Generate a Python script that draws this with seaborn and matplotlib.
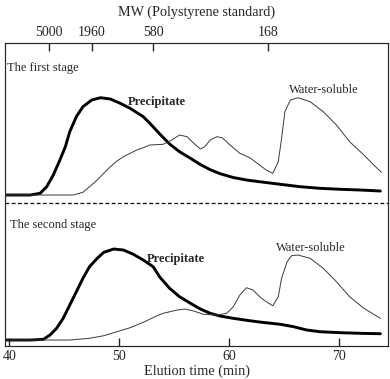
import matplotlib
matplotlib.use('Agg')
import matplotlib.pyplot as plt
import seaborn as sns
import pandas as pd

sns.set_style('ticks')
plt.rcParams['font.family'] = ['Liberation Serif', 'DejaVu Serif']

# elution time (min) and signal height above baseline
t_prec1 = [39.7, 41.9, 42.8, 43.4, 44.0, 44.6, 45.1, 45.5, 46.1, 46.7, 47.5, 48.3, 49.2,
           50.1, 51.0, 52.2, 52.8, 53.7, 54.6, 55.5, 56.5, 57.4, 58.3, 59.2, 60.4, 61.6,
           62.8, 64.7, 66.5, 68.3, 70.2, 72.0, 73.8]
s_prec1 = [0, 0, 1.7, 8.3, 20, 35, 48.3, 63.3, 78.3, 88.3, 95, 97.3, 96, 91.7, 86.7,
           78.3, 71.7, 61, 51, 43.3, 36.7, 30.5, 25.3, 21.3, 17.5, 15, 13.3, 10.7, 8.3,
           6.7, 5.7, 5, 4]

t_ws1 = [39.7, 45.8, 46.7, 47.3, 48.0, 48.6, 49.2, 49.8, 50.4, 51.0, 51.6, 52.2, 52.8,
         54.0, 54.8, 55.5, 56.2, 56.8, 57.4, 57.8, 58.3, 58.9, 59.4, 60.1, 61.0, 61.9,
         62.8, 63.4, 64.0, 64.5, 64.8, 65.1, 65.6, 66.3, 67.4, 68.6, 69.8, 71.0, 72.3,
         73.2, 73.9]
s_ws1 = [0, 0, 2.7, 8.3, 15, 21.7, 28.3, 34, 38.3, 41.7, 45, 47.3, 50, 50.7, 55, 60,
         58.3, 51.7, 46, 48.3, 55, 58.3, 57.3, 50, 41.7, 37.3, 30, 25, 21.7, 33.3, 56.7,
         83.3, 95, 97.3, 93.3, 83.3, 70, 53.3, 40, 30, 22.7]

t_prec2 = [39.7, 41.9, 43.1, 43.7, 44.3, 44.9, 45.5, 46.1, 46.7, 47.3, 48.0, 48.6, 49.5,
           50.4, 51.3, 52.2, 53.1, 53.7, 54.6, 55.5, 56.5, 57.4, 58.3, 59.2, 60.4, 61.9,
           62.8, 64.7, 65.9, 67.1, 68.3, 70.2, 72.0, 73.8]
s_prec2 = [0, 0, 0.7, 5, 11.7, 21.7, 35, 48.3, 61.7, 73.3, 81.7, 87.7, 91, 90, 85.7, 80,
           73.3, 63, 51.7, 43.3, 36.7, 31, 26.7, 24, 21.7, 19.3, 18, 15.7, 13.3, 10,
           8.3, 7.3, 6.7, 6.3]

t_ws2 = [39.7, 45.5, 47.3, 48.6, 49.8, 51.0, 52.2, 53.4, 54.0, 55.3, 56.0, 56.8, 57.7,
         58.9, 59.8, 60.4, 61.0, 61.6, 62.2, 62.8, 63.4, 64.0, 64.5, 64.8, 65.3, 65.7,
         66.3, 67.4, 68.6, 69.8, 71.0, 72.3, 73.8]
s_ws2 = [0, 0, 1.7, 4.3, 8.3, 12.3, 17.7, 24, 26.7, 30, 31, 29, 25.7, 25, 26.7, 33.3, 45,
         52.3, 50, 43.3, 38.3, 34.3, 43.3, 61.7, 78.3, 84.3, 85, 81.7, 71.7, 58.3, 43.3,
         31.7, 21.7]

stage_offsets = {'first': 151, 'second': 6}

mw_labels = ['5000', '1960', '580', '168']
mw_times = [43.6, 47.5, 53.1, 63.6]

rows = []
for stage, kind, tt, ss in [('first', 'Precipitate', t_prec1, s_prec1),
                            ('first', 'Water-soluble', t_ws1, s_ws1),
                            ('second', 'Precipitate', t_prec2, s_prec2),
                            ('second', 'Water-soluble', t_ws2, s_ws2)]:
    for t, s in zip(tt, ss):
        rows.append({'stage': stage, 'kind': kind, 'time': t,
                     'y': s + stage_offsets[stage]})
df = pd.DataFrame(rows)

fig = plt.figure(figsize=(3.9, 3.79), dpi=100)
ax = fig.add_axes([0.0128, 0.087, 0.9822, 0.7995])

for (stage, kind), g in df.groupby(['stage', 'kind']):
    bold = kind == 'Precipitate'
    sns.lineplot(data=g, x='time', y='y', ax=ax, color='black' if bold else '#3a3a3a',
                 linewidth=2.1 if bold else 0.7, sort=False, estimator=None,
                 solid_joinstyle='round')

ax.axhline(143, color='black', linestyle=(0, (3, 2)), linewidth=0.9)

ax.set_xlim(39.6, 74.5)
ax.set_ylim(0, 303)
ax.set_yticks([])
ax.set_ylabel('')
ax.set_xticks([40, 50, 60, 70])
ax.tick_params(axis='x', direction='in', length=6, width=1, labelsize=10, pad=3)
ax.set_xlabel('Elution time (min)', fontsize=10.3, labelpad=1)
for sp in ax.spines.values():
    sp.set_linewidth(0.8)
    sp.set_color('#555555')

top = ax.twiny()
top.set_xlim(ax.get_xlim())
top.set_xticks(mw_times)
top.set_xticklabels(mw_labels)
top.tick_params(axis='x', direction='in', length=6, width=1, labelsize=10, pad=3)
top.set_xlabel('MW (Polystyrene standard)', fontsize=10.2, labelpad=7)

ax.text(39.8, 278, 'The first stage', fontsize=9, va='center', ha='left')
ax.text(50.8, 244, 'Precipitate', fontsize=9, fontweight='bold', va='center', ha='left')
ax.text(65.5, 256, 'Water-soluble', fontsize=9, va='center', ha='left')
ax.text(40.05, 121, 'The second stage', fontsize=9, va='center', ha='left')
ax.text(52.5, 87, 'Precipitate', fontsize=9, fontweight='bold', va='center', ha='left')
ax.text(64.3, 98, 'Water-soluble', fontsize=9, va='center', ha='left')

fig.savefig('out.png', dpi=100)
